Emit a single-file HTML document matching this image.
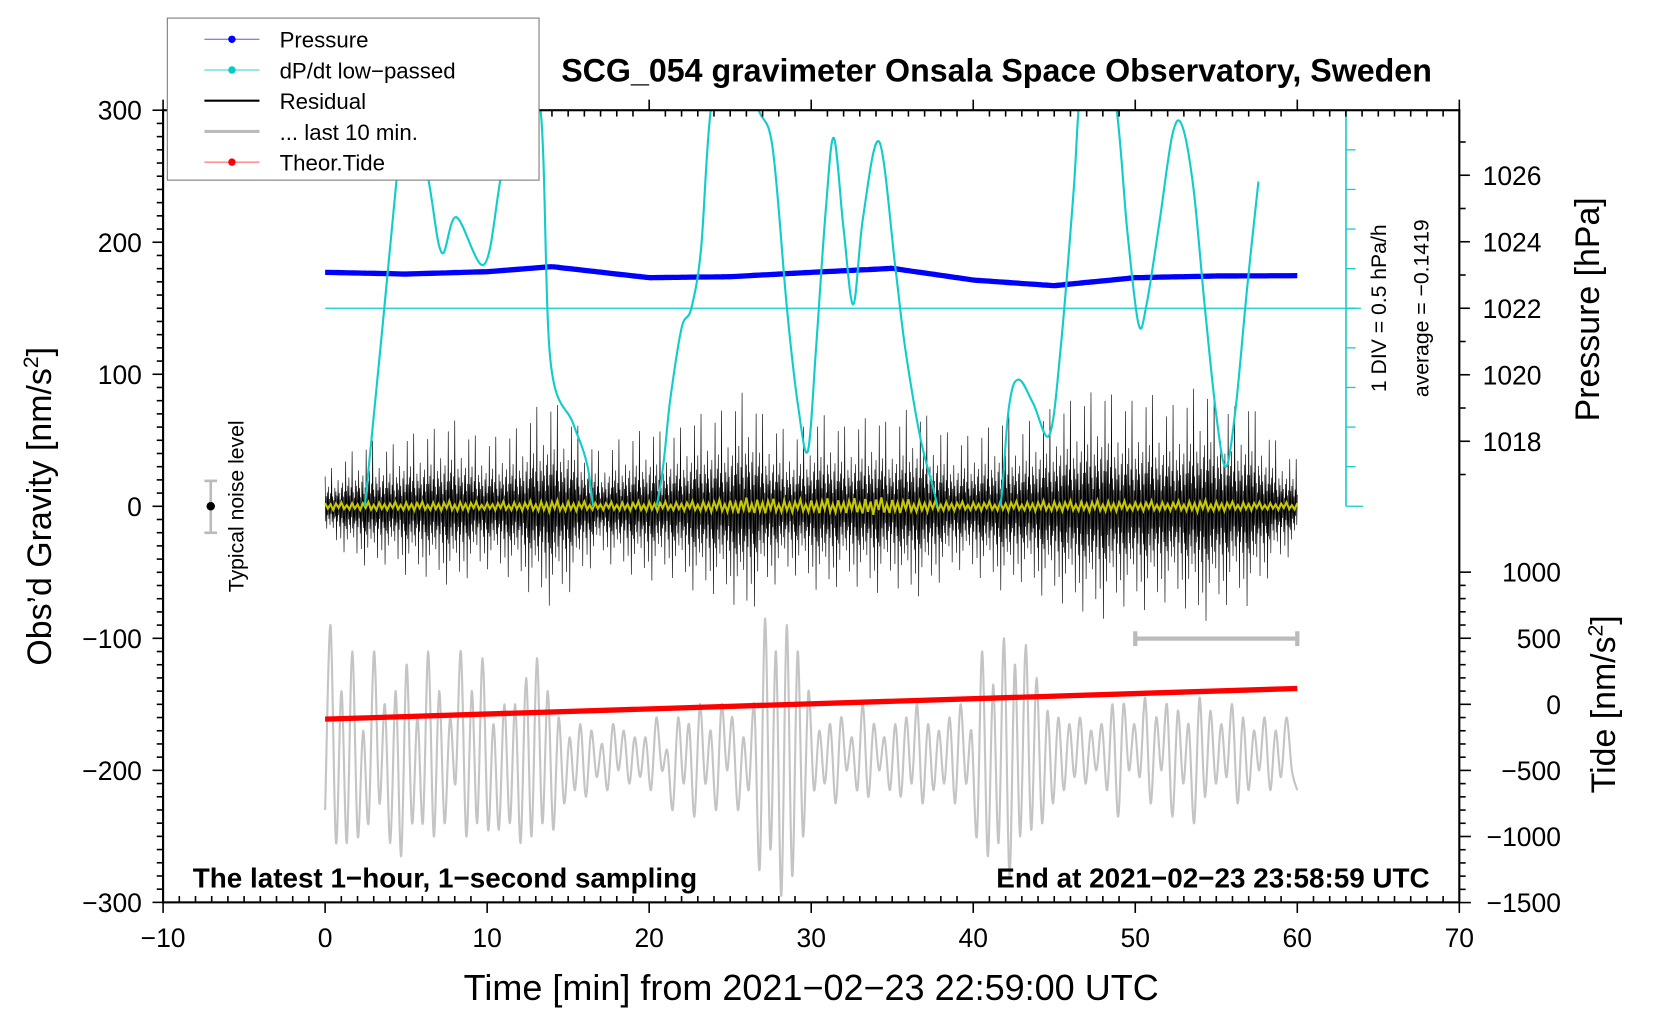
<!DOCTYPE html>
<html><head><meta charset="utf-8"><style>
html,body{margin:0;padding:0;background:#fff}
svg{display:block;font-family:"Liberation Sans",sans-serif}
</style></head><body>
<svg id="chart" width="1660" height="1020" viewBox="0 0 1567.5 963">
<defs><clipPath id="plotclip"><rect x="154" y="104" width="1224" height="748"/></clipPath>
<clipPath id="cyanclip"><rect x="154" y="104" width="1224" height="374"/></clipPath></defs>
<g id="layer-gray" clip-path="url(#plotclip)"></g>
<g id="layer-res" clip-path="url(#plotclip)"></g>
<g id="layer-yel" clip-path="url(#plotclip)"></g>
<g id="layer-red"></g>
<g id="layer-pres"></g>
<g id="layer-cyan" clip-path="url(#cyanclip)"></g>
<g id="axes"></g>
<rect x="154" y="104" width="1224" height="748" fill="none" stroke="#000" stroke-width="2"/>
<text x="941" y="77" font-size="30.4" font-weight="bold" text-anchor="middle">SCG_054 gravimeter Onsala Space Observatory, Sweden</text>
<text x="182" y="838" font-size="26.3" font-weight="bold">The latest 1−hour, 1−second sampling</text>
<text x="1350" y="838" font-size="26.3" font-weight="bold" text-anchor="end">End at 2021−02−23 23:58:59 UTC</text>
<text x="766" y="944" font-size="34" text-anchor="middle">Time [min] from 2021−02−23 22:59:00 UTC</text>
<text transform="translate(48,478) rotate(-90)" font-size="32" text-anchor="middle">Obs’d Gravity [nm/s<tspan font-size="20" dy="-12">2</tspan><tspan dy="12">]</tspan></text>
<text transform="translate(1510,292) rotate(-90)" font-size="32" text-anchor="middle">Pressure [hPa]</text>
<text transform="translate(1525,665) rotate(-90)" font-size="32" text-anchor="middle">Tide [nm/s<tspan font-size="20" dy="-12">2</tspan><tspan dy="12">]</tspan></text>
<text transform="translate(1309,291) rotate(-90)" font-size="20" text-anchor="middle">1 DIV = 0.5 hPa/h</text>
<text transform="translate(1349,291) rotate(-90)" font-size="20" text-anchor="middle">average = −0.1419</text>
<text transform="translate(230,478) rotate(-90)" font-size="20" text-anchor="middle">Typical noise level</text>
<g stroke="#bbb" stroke-width="2.5">
<line x1="199" y1="454" x2="199" y2="503"/><line x1="193" y1="454" x2="205" y2="454"/><line x1="193" y1="503" x2="205" y2="503"/>
<circle cx="199" cy="478" r="4" fill="#000" stroke="none"/></g>
<g stroke="#bbb" stroke-width="4">
<line x1="1072" y1="603" x2="1225" y2="603"/><line x1="1072" y1="596" x2="1072" y2="610"/><line x1="1225" y1="596" x2="1225" y2="610"/></g>
<g>
<rect x="158" y="17" width="351" height="153" fill="#fff" stroke="#777" stroke-width="1"/>
<g><line x1="193" y1="37" x2="245" y2="37" stroke="#55f" stroke-width="1"/><circle cx="219" cy="37" r="3.5" fill="#00f"/><text x="264" y="45" font-size="21">Pressure</text></g>
<g><line x1="193" y1="66" x2="245" y2="66" stroke="#3cc" stroke-width="1"/><circle cx="219" cy="66" r="3.5" fill="#0cc"/><text x="264" y="74" font-size="21">dP/dt low−passed</text></g>
<g><line x1="193" y1="95" x2="245" y2="95" stroke="#000" stroke-width="2"/><text x="264" y="103" font-size="21">Residual</text></g>
<g><line x1="193" y1="124" x2="245" y2="124" stroke="#bbb" stroke-width="3"/><text x="264" y="132" font-size="21">... last 10 min.</text></g>
<g><line x1="193" y1="153" x2="245" y2="153" stroke="#f55" stroke-width="1"/><circle cx="219" cy="153" r="3.5" fill="#f00"/><text x="264" y="161" font-size="21">Theor.Tide</text></g>
</g>
</svg>
<script>
// ---- data ----
const residualEnvelope = [25,35,45,50,45,55,55,60,65,55,50,55,60,75,80,70,55,40,50,55,60,55,60,70,70,75,90,70,60,55,65,70,60,65,70,60,75,70,60,50,55,60,70,60,70,75,80,85,90,80,80,85,75,80,95,85,75,80,60,45,35];
const residualPattern = [0.9,-0.45,0.3,-0.65,0.4,-0.25,0.55,-0.35,0.2,-0.5,0.35,-0.2,1.0,-0.4,0.25,-0.55,0.15,-0.3,0.45,-0.25,0.35,-0.8,0.25,-0.35,0.6,-0.2,0.3,-0.45,0.15,-0.7,0.4,-0.25,0.5,-0.35,0.2,-0.95,0.3,-0.4];
const yellowEnvelope = [5,5,5,6,5,6,6,6,7,6,5,6,6,7,8,7,6,5,6,6,7,6,6,7,8,9,11,10,9,8,9,10,9,11,12,10,9,8,7,6,6,6,7,6,7,7,7,7,8,7,6,7,6,7,8,7,6,6,5,5,5];
const yellowPattern = [0.8,-0.6,0.5,-0.9,0.7,-0.4,1.0,-0.7,0.3,-0.8];
const grayValues = [-230,-90,-255,-140,-255,-110,-250,-170,-240,-110,-225,-150,-255,-140,-265,-120,-240,-160,-240,-110,-250,-140,-240,-160,-210,-110,-250,-140,-240,-115,-245,-165,-245,-150,-240,-150,-255,-130,-250,-115,-240,-140,-245,-160,
-225,-175,-215,-165,-220,-170,-205,-180,-215,-165,-200,-170,-210,-175,-205,-175,-215,-160,-200,-185,
-230,-160,-210,-165,-235,-150,-210,-170,-230,-150,-200,-160,-230,-175,-215,-150,
-275,-85,-260,-110,-295,-90,-280,-110,-250,-140,
-215,-170,-210,-165,-225,-160,-200,-175,-215,-150,-220,-165,-200,-175,-215,-165,-220,-160,-210,-150,-225,-165,-215,-170,-210,-160,-225,-150,-210,-170,
-250,-110,-265,-135,-255,-100,-280,-120,-250,-105,-245,-130,-240,-155,-225,-160,-215,-165,
-205,-160,-210,-170,-200,-165,-215,-150,-235,-150,-200,-165,-205,-145,-225,-160,-200,-150,-235,-155,-210,-165,-240,-145,-220,-155,-210,-165,-205,-150,-225,-160,-215,-170,-200,-160,-215,-170,-205,-160,-200,-215];
const pressureTimes = [0,5,10,14,20,25,30,35,40,42,45,50,55,60];
const pressureValues = [1023.08,1023.03,1023.1,1023.25,1022.92,1022.95,1023.08,1023.2,1022.85,1022.78,1022.68,1022.92,1022.97,1022.98];
const cyanTimes = [0,2.4,2.5,4.4,5,6.4,7.2,8.1,9.8,10.8,12,13.3,13.9,15.3,16.2,17,19,20.6,21.3,22,22.6,23.2,23.8,25,26.6,27.6,28.5,29.2,29.8,30.3,30.9,31.4,32,32.6,33.2,34.2,35.2,35.8,36.7,37.5,38.5,40,41.5,42.2,42.8,43.7,44.7,45.4,46.2,46.6,47.5,48.8,49.5,50.2,50.7,51.5,52.3,52.9,53.6,54.3,55,55.6,56.2,56.9,57.6];
const cyanValues = [-8,-5.2,-4.8,3.2,6.5,3.2,1.4,2.3,1.1,3.2,6.5,5,-1.3,-2.9,-4,-6,-7,-4.7,-2.3,-0.5,0,1.5,5,8,5.2,4.1,0,-2.5,-3.6,-1,2.5,4.3,2,0.1,2.3,4.2,1,-1,-3.2,-4.5,-6,-7,-5.5,-2.5,-1.8,-2.4,-3.2,-1,3,5.5,8,5.2,2,-0.4,0.1,2.2,4.4,4.6,3,0,-2.7,-4,-2.5,0.5,3.2];
const tideTimes = [0,60];
const tideValues = [-112,120];
const xTicks = [-10,0,10,20,30,40,50,60,70];
const gravTicks = [300,200,100,0,-100,-200,-300];
const pressTicks = [1026,1024,1022,1020,1018];
const tideTicks = [1000,500,0,-500,-1000,-1500];

// ---- scales ----
const X = t => 154 + (t + 10) * 15.3;
const YG = v => 478 - v * 1.2467;
const YP = p => 291 - (p - 1022) * 31.4;
const YT = v => 665 - v * 0.1248;
const YD = d => 291 - d * 37.4;
const NS = 'http://www.w3.org/2000/svg';
function mk(tag, attrs, parent) { const e = document.createElementNS(NS, tag); for (const k in attrs) e.setAttribute(k, attrs[k]); parent.appendChild(e); return e; }
function interp(ts, vs, t) { for (let i = 0; i < ts.length - 1; i++) { if (t <= ts[i+1]) { const f = (t - ts[i]) / (ts[i+1] - ts[i]); return vs[i] + (vs[i+1] - vs[i]) * f; } } return vs[vs.length-1]; }
function smoothPath(pts) { let d = 'M' + pts[0][0].toFixed(1) + ',' + pts[0][1].toFixed(1); for (let i = 0; i < pts.length - 1; i++) { const p0 = pts[Math.max(0,i-1)], p1 = pts[i], p2 = pts[i+1], p3 = pts[Math.min(pts.length-1,i+2)]; const c1 = [p1[0] + (p2[0]-p0[0])/6, p1[1] + (p2[1]-p0[1])/6], c2 = [p2[0] - (p3[0]-p1[0])/6, p2[1] - (p3[1]-p1[1])/6]; d += 'C' + c1[0].toFixed(1) + ',' + c1[1].toFixed(1) + ' ' + c2[0].toFixed(1) + ',' + c2[1].toFixed(1) + ' ' + p2[0].toFixed(1) + ',' + p2[1].toFixed(1); } return d; }
const envT = residualEnvelope.map((_, i) => i);

// gray
{ const g = document.getElementById('layer-gray'); const n = grayValues.length; const pts = grayValues.map((v, i) => [X(i * 60 / (n - 1)), YG(v)]);
  const p = mk('path', {d: smoothPath(pts), fill: 'none', stroke: '#c4c4c4', 'stroke-width': 2}, g);
  
   }
// residual
{ const g = document.getElementById('layer-res'); let d = ''; const N = 1800;
  for (let i = 0; i <= N; i++) { const t = i * 60 / N; const a = interp(envT, residualEnvelope, t); const v = a * residualPattern[i % residualPattern.length]; d += (i ? 'L' : 'M') + X(t).toFixed(2) + ',' + YG(v).toFixed(1); }
  const p = mk('path', {d: d, fill: 'none', stroke: '#000', 'stroke-width': 0.6}, g);
  
   }
// yellow
{ const g = document.getElementById('layer-yel'); let d = ''; const N = 360;
  for (let i = 0; i <= N; i++) { const t = i * 60 / N; const a = interp(envT, yellowEnvelope, t); const v = a * yellowPattern[i % yellowPattern.length] * 0.6; d += (i ? 'L' : 'M') + X(t).toFixed(2) + ',' + YG(v).toFixed(1); }
  const p = mk('path', {d: d, fill: 'none', stroke: '#c8c800', 'stroke-width': 2}, g);
  
   }
// tide
{ const g = document.getElementById('layer-red');
  const p = mk('line', {x1: X(tideTimes[0]), y1: YT(tideValues[0]), x2: X(tideTimes[1]), y2: YT(tideValues[1]), stroke: '#f00', 'stroke-width': 5}, g);
  
   }
// pressure
{ const g = document.getElementById('layer-pres'); const pts = []; for (let i = 0; i <= 120; i++) { const t = i * 0.5; pts.push([X(t), YP(interp(pressureTimes, pressureValues, t))]); }
  const p = mk('path', {d: smoothPath(pts), fill: 'none', stroke: '#00f', 'stroke-width': 5}, g);
  
   }
// cyan
{ const g = document.getElementById('layer-cyan'); const pts = cyanTimes.map((t, i) => [X(t), YD(cyanValues[i])]);
  const p = mk('path', {d: smoothPath(pts), fill: 'none', stroke: '#1cc', 'stroke-width': 2}, g);
  
   }

// axes
{ const g = document.getElementById('axes'); const S = {stroke: '#000', 'stroke-width': 1.5};
  mk('line', {x1: 307, y1: 291, x2: 1285, y2: 291, stroke: '#1cc', 'stroke-width': 1.2}, g);
  mk('line', {x1: 1271, y1: 104, x2: 1271, y2: 478, stroke: '#1cc', 'stroke-width': 1.5}, g);
  for (let d = -5; d <= 5; d++) mk('line', {x1: 1271, y1: YD(d), x2: d === -5 ? 1287 : 1280, y2: YD(d), stroke: '#1cc', 'stroke-width': 1.2}, g);
  for (let t = -10; t <= 70; t++) { const maj = t % 10 === 0; mk('line', Object.assign({x1: X(t), y1: 852, x2: X(t), y2: maj ? 862 : 846}, S), g); mk('line', Object.assign({x1: X(t), y1: 104, x2: X(t), y2: maj ? 94 : 110}, S), g); }
  xTicks.forEach(t => { const e = mk('text', {x: X(t), y: 894, 'font-size': 25, 'text-anchor': 'middle'}, g); e.textContent = (t < 0 ? '−' + (-t) : t);
    
     });
  for (let v = -300; v <= 300; v += 10) { const maj = v % 100 === 0; mk('line', Object.assign({x1: maj ? 144 : 148, y1: YG(v), x2: 154, y2: YG(v)}, S), g); }
  gravTicks.forEach(v => { const e = mk('text', {x: 134, y: YG(v) + 9, 'font-size': 25, 'text-anchor': 'end'}, g); e.textContent = (v < 0 ? '−' + (-v) : v);
    
     });
  for (let p = 1017; p <= 1027; p++) mk('line', Object.assign({x1: 1378, y1: YP(p), x2: p % 2 === 0 ? 1388 : 1384, y2: YP(p)}, S), g);
  pressTicks.forEach(p => { const e = mk('text', {x: 1400, y: YP(p) + 9, 'font-size': 25}, g); e.textContent = p;
    
     });
  for (let v = -1500; v <= 1000; v += 100) mk('line', Object.assign({x1: 1378, y1: YT(v), x2: v % 500 === 0 ? 1389 : 1384, y2: YT(v)}, S), g);
  tideTicks.forEach(v => { const e = mk('text', {x: 1474, y: YT(v) + 9, 'font-size': 25, 'text-anchor': 'end'}, g); e.textContent = (v < 0 ? '−' + (-v) : v);
    
     });
}
</script>
</body></html>
